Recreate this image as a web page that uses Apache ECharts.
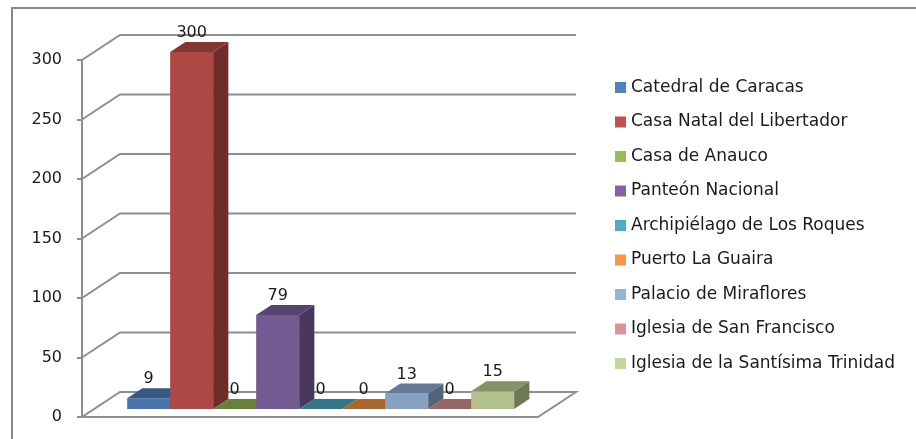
<!DOCTYPE html>
<html>
<head>
<meta charset="utf-8">
<script src="https://cdn.jsdelivr.net/npm/echarts@6/dist/echarts.min.js"></script>
<style>
  html, body { margin: 0; padding: 0; background: #fff; }
  #main { width: 916px; height: 439px; }
</style>
</head>
<body>
<div id="main"></div>
<script>
var names = ['Catedral de Caracas', 'Casa Natal del Libertador', 'Casa de Anauco', 'Panteón Nacional',
  'Archipiélago de Los Roques', 'Puerto La Guaira', 'Palacio de Miraflores',
  'Iglesia de San Francisco', 'Iglesia de la Santísima Trinidad'];
var visits = [9, 300, 0, 79, 0, 0, 13, 0, 15];
var yTicks = [0, 50, 100, 150, 200, 250, 300];
var colors = ['#4F81BD', '#C0504D', '#9BBB59', '#8064A2', '#4BACC6', '#F79646', '#95B3D7', '#D99694', '#C3D69B'];

// fake 3d: full depth of floor, bars sit between BAR_D0 and BAR_D0+BAR_D of it
var DEPTH = [38, -25];
var BAR_D0 = 0.32, BAR_D = 0.4;
var AXIS_OFFSET = 33, FLOOR_PAD = 36;
var FONT = '"DejaVu Sans", Verdana, sans-serif';

function shade(hex, k) {
  var n = parseInt(hex.slice(1), 16);
  var r = Math.round(((n >> 16) & 255) * k), g = Math.round(((n >> 8) & 255) * k), b = Math.round((n & 255) * k);
  return 'rgb(' + r + ',' + g + ',' + b + ')';
}

var chart = echarts.init(document.getElementById('main'));

function gridRender(params, api) {
  var p = api.coord([0, api.value(1)]);
  var bw = api.size([1, 0])[0];
  var left = p[0] - bw / 2;
  var right = left + bw * names.length;
  var fx = left - AXIS_OFFSET;
  var y = p[1];
  var col = '#8e8e8e';
  if (api.value(1) === 0) {
    return {
      type: 'polygon',
      shape: { points: [[fx, y], [right + FLOOR_PAD, y], [right + FLOOR_PAD + DEPTH[0], y + DEPTH[1]], [fx + DEPTH[0], y + DEPTH[1]]] },
      style: { fill: '#fff', stroke: col, lineWidth: 2 }
    };
  }
  return {
    type: 'polyline',
    shape: { points: [[fx, y], [fx + DEPTH[0], y + DEPTH[1]], [right + FLOOR_PAD + DEPTH[0], y + DEPTH[1]]] },
    style: { fill: null, stroke: col, lineWidth: 2 }
  };
}

function barRender(color) {
  return function (params, api) {
    var v = api.value(1);
    var base = api.coord([api.value(0), 0]);
    var top = api.coord([api.value(0), v]);
    var bw = api.size([1, 0])[0];
    var ox = DEPTH[0] * BAR_D0, oy = DEPTH[1] * BAR_D0;
    var dx = DEPTH[0] * BAR_D, dy = DEPTH[1] * BAR_D;
    var x0 = base[0] - bw / 2 + ox, x1 = x0 + bw;
    var yb = base[1] + oy, yt = top[1] + oy;
    return {
      type: 'group',
      children: [
        { type: 'rect', shape: { x: x0, y: yt, width: bw, height: yb - yt }, style: { fill: shade(color, 0.9) } },
        { type: 'polygon', shape: { points: [[x1, yt], [x1 + dx, yt + dy], [x1 + dx, yb + dy], [x1, yb]] }, style: { fill: shade(color, 0.56) } },
        { type: 'polygon', shape: { points: [[x0, yt], [x1, yt], [x1 + dx, yt + dy], [x0 + dx, yt + dy]] }, style: { fill: shade(color, 0.68) } },
        { type: 'text', z2: 10, style: { text: String(v), x: (x0 + x1) / 2, y: yt + dy - 9, align: 'center', verticalAlign: 'middle',
          fontSize: 16, fontFamily: FONT, fill: '#1a1a1a' } }
      ]
    };
  };
}

var series = [{
  type: 'custom',
  name: 'grid',
  renderItem: gridRender,
  data: yTicks.map(function (t) { return [0, t]; }),
  silent: true,
  z: 1
}];
names.forEach(function (n, i) {
  series.push({
    type: 'custom',
    name: n,
    renderItem: barRender(colors[i]),
    itemStyle: { color: colors[i] },
    data: [[i, visits[i]]],
    z: 2
  });
});

var option = {
  animation: false,
  color: colors,
  graphic: [{
    type: 'rect',
    shape: { x: 12, y: 8, width: 1000, height: 600 },
    style: { fill: null, stroke: '#878787', lineWidth: 2 },
    z: 0
  }],
  legend: {
    data: names,
    orient: 'vertical',
    left: 610,
    top: 74,
    icon: 'rect',
    itemWidth: 11,
    itemHeight: 11,
    itemGap: 17.5,
    textStyle: { fontSize: 17, fontFamily: FONT, color: '#1a1a1a', lineHeight: 16 }
  },
  grid: {
    left: 115,
    width: 387,
    top: 60,
    bottom: 22
  },
  xAxis: {
    type: 'category',
    data: names,
    show: false
  },
  yAxis: {
    type: 'value',
    min: 0,
    max: 300,
    interval: 50,
    offset: AXIS_OFFSET,
    axisLine: { show: true, lineStyle: { color: '#8e8e8e', width: 2 } },
    axisTick: { show: true, length: 5, lineStyle: { color: '#8e8e8e', width: 2 } },
    axisLabel: { margin: 20, fontSize: 16, fontFamily: FONT, color: '#1a1a1a' },
    splitLine: { show: false }
  },
  series: series
};

chart.setOption(option);
</script>
</body>
</html>
